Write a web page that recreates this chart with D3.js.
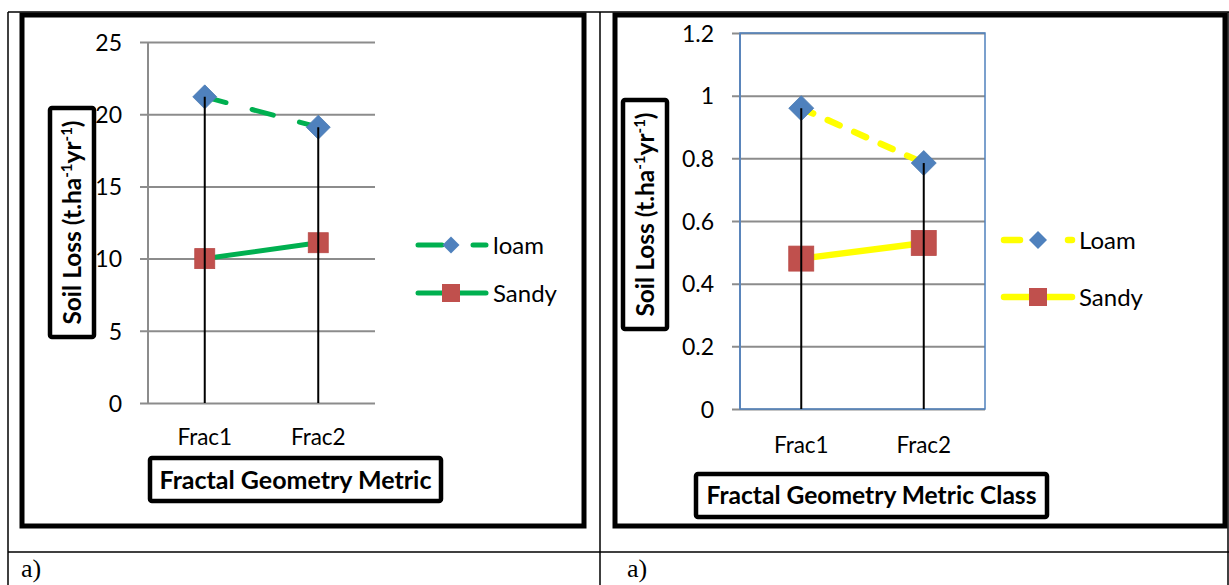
<!DOCTYPE html>
<html>
<head>
<meta charset="utf-8">
<script src="https://cdn.jsdelivr.net/npm/d3@7"></script>
<style>
  html, body { margin: 0; padding: 0; background: #fff; }
  svg { display: block; }
  text { font-family: Lato, "Open Sans", sans-serif; }
</style>
</head>
<body>
<svg id="fig" width="1229" height="585"></svg>
<script>
// Soil loss by fractal geometry metric, two soil types
const categories = ["Frac1", "Frac2"];

const loamA  = [21.2, 19.1];
const sandyA = [10.0, 11.1];
const ticksA = [0, 5, 10, 15, 20, 25];

const loamB  = [0.96, 0.785];
const sandyB = [0.48, 0.53];
const ticksB = [0, 0.2, 0.4, 0.6, 0.8, 1, 1.2];

const seriesNamesA = ["loam", "Sandy"];
const seriesNamesB = ["Loam", "Sandy"];

const svg = d3.select("#fig");

// table grid that holds the two panels
const tbl = svg.append("g").attr("stroke", "#000").attr("stroke-width", 1.5).attr("fill", "none");
tbl.append("line").attr("x1", 8).attr("x2", 1229).attr("y1", 12).attr("y2", 12);
tbl.append("line").attr("x1", 8).attr("x2", 8).attr("y1", 12).attr("y2", 585);
tbl.append("line").attr("x1", 600).attr("x2", 600).attr("y1", 12).attr("y2", 585);
tbl.append("line").attr("x1", 1228).attr("x2", 1228).attr("y1", 12).attr("y2", 585);
tbl.append("line").attr("x1", 8).attr("x2", 1229).attr("y1", 552).attr("y2", 552);

const serif = "'Liberation Serif', 'Times New Roman', serif";
svg.append("text").attr("x", 21).attr("y", 577).style("font-family", serif).style("font-size", "26px").text("a)");
svg.append("text").attr("x", 627).attr("y", 577).style("font-family", serif).style("font-size", "26px").text("a)");

function diamondPath(s) {
  const h = s / 2;
  return `M0,${-h}L${h},0L0,${h}L${-h},0Z`;
}

function drawPanel(cfg) {
  const g = svg.append("g");

  // outer heavy frame
  g.append("rect").attr("x", cfg.frame[0]).attr("y", cfg.frame[1])
    .attr("width", cfg.frame[2] - cfg.frame[0]).attr("height", cfg.frame[3] - cfg.frame[1])
    .attr("fill", "none").attr("stroke", "#000").attr("stroke-width", 5);

  const x = d3.scaleBand().domain(categories).range([cfg.plot.left, cfg.plot.right]);
  const y = d3.scaleLinear().domain(cfg.yDomain).range([cfg.plot.bottom, cfg.plot.top]);

  // gridlines with tick stubs to the left of the axis
  const yAxis = d3.axisLeft(y).tickValues(cfg.ticks)
    .tickSize(-(cfg.plot.right - cfg.plot.left) - cfg.tickOut)
    .tickFormat(d => String(d)).tickPadding(0);
  const ya = g.append("g").attr("transform", `translate(${cfg.plot.left - cfg.tickOut},0)`).call(yAxis);
  ya.select(".domain").remove();
  ya.selectAll(".tick line").attr("stroke", "#8c8c8c").attr("stroke-width", 2);
  ya.selectAll(".tick text").attr("x", cfg.labelRight - (cfg.plot.left - cfg.tickOut))
    .attr("dy", "0.36em").attr("fill", "#000").style("font-size", "23px");

  // vertical value axis line
  g.append("line").attr("x1", cfg.plot.left).attr("x2", cfg.plot.left)
    .attr("y1", cfg.plot.top).attr("y2", cfg.plot.bottom)
    .attr("stroke", cfg.axisColor).attr("stroke-width", 2);

  if (cfg.border) {
    g.append("rect").attr("x", cfg.plot.left).attr("y", cfg.plot.top)
      .attr("width", cfg.plot.right - cfg.plot.left).attr("height", cfg.plot.bottom - cfg.plot.top)
      .attr("fill", "none").attr("stroke", cfg.border).attr("stroke-width", 1.5);
  }

  // category labels
  const xAxis = d3.axisBottom(x).tickSize(0).tickPadding(0);
  const xa = g.append("g").attr("transform", `translate(0,${cfg.catY})`).call(xAxis);
  xa.select(".domain").remove();
  xa.selectAll(".tick text").attr("dy", "0.36em").attr("y", 0).attr("fill", "#000").style("font-size", "22.5px");

  const cx = d => x(d) + x.bandwidth() / 2;
  const line = d3.line().x((d, i) => cx(categories[i])).y(d => y(d));

  // series lines
  g.append("path").datum(cfg.sandy).attr("d", line).attr("fill", "none")
    .attr("stroke", cfg.color).attr("stroke-width", cfg.lineW).attr("stroke-linecap", "round");
  g.append("path").datum(cfg.loam).attr("d", line).attr("fill", "none")
    .attr("stroke", cfg.color).attr("stroke-width", cfg.lineW)
    .attr("stroke-linecap", "round").attr("stroke-dasharray", cfg.dash);

  // markers
  g.selectAll(".dia").data(cfg.loam).join("path").attr("class", "dia")
    .attr("transform", (d, i) => `translate(${cx(categories[i])},${y(d)})`)
    .attr("d", diamondPath(cfg.diaSize)).attr("fill", "#4F81BD")
    .attr("stroke", "#4a7ab3").attr("stroke-width", 0.8);
  g.selectAll(".sq").data(cfg.sandy).join("rect").attr("class", "sq")
    .attr("x", (d, i) => cx(categories[i]) - cfg.sqSize / 2)
    .attr("y", d => y(d) - cfg.sqSize / 2)
    .attr("width", cfg.sqSize).attr("height", cfg.sqSize)
    .attr("fill", "#C0504D").attr("stroke", "#b84a47").attr("stroke-width", 0.8);

  // drop lines from the highest point of each category to the baseline
  g.selectAll(".drop").data(categories).join("line").attr("class", "drop")
    .attr("x1", d => cx(d)).attr("x2", d => cx(d))
    .attr("y1", (d, i) => y(Math.max(cfg.loam[i], cfg.sandy[i])))
    .attr("y2", y(0)).attr("stroke", "#000").attr("stroke-width", 2);

  // legend
  const lg = g.append("g");
  const L = cfg.legend;
  // loam entry: dashed line with diamond
  lg.append("line").attr("x1", L.x0).attr("x2", L.x1).attr("y1", L.y0).attr("y2", L.y0)
    .attr("stroke", cfg.color).attr("stroke-width", cfg.lineW)
    .attr("stroke-linecap", "round").attr("stroke-dasharray", L.dash);
  lg.append("path").attr("transform", `translate(${L.mx},${L.y0})`)
    .attr("d", diamondPath(L.dia)).attr("fill", "#4F81BD");
  lg.append("text").attr("x", L.tx).attr("y", L.y0).attr("dy", "0.36em")
    .style("font-size", "24px").text(cfg.names[0]);
  // sandy entry: solid line with square
  lg.append("line").attr("x1", L.x0).attr("x2", L.x1).attr("y1", L.y1).attr("y2", L.y1)
    .attr("stroke", cfg.color).attr("stroke-width", cfg.lineW).attr("stroke-linecap", "round");
  lg.append("rect").attr("x", L.mx - L.sq / 2).attr("y", L.y1 - L.sq / 2)
    .attr("width", L.sq).attr("height", L.sq).attr("fill", "#C0504D");
  lg.append("text").attr("x", L.tx).attr("y", L.y1).attr("dy", "0.36em")
    .style("font-size", "24px").text(cfg.names[1]);

  // value axis title in a boxed frame
  const yb = cfg.yBox;
  g.append("rect").attr("x", yb[0]).attr("y", yb[1]).attr("width", yb[2] - yb[0]).attr("height", yb[3] - yb[1])
    .attr("rx", 2).attr("fill", "#fff").attr("stroke", "#000").attr("stroke-width", 4.5);
  const yt = g.append("text")
    .attr("transform", `translate(${(yb[0] + yb[2]) / 2 + 9},${(yb[1] + yb[3]) / 2}) rotate(-90)`)
    .attr("text-anchor", "middle").style("font-size", "24.5px").style("font-weight", "bold");
  yt.append("tspan").text("Soil Loss (t.ha");
  yt.append("tspan").attr("dy", -9).style("font-size", "15px").text("-1");
  yt.append("tspan").attr("dy", 9).text("yr");
  yt.append("tspan").attr("dy", -9).style("font-size", "15px").text("-1");
  yt.append("tspan").attr("dy", 9).text(")");

  // category axis title in a boxed frame
  const xb = cfg.xBox;
  g.append("rect").attr("x", xb[0]).attr("y", xb[1]).attr("width", xb[2] - xb[0]).attr("height", xb[3] - xb[1])
    .attr("rx", 2).attr("fill", "#fff").attr("stroke", "#000").attr("stroke-width", 4.5);
  g.append("text").attr("x", (xb[0] + xb[2]) / 2).attr("y", (xb[1] + xb[3]) / 2).attr("dy", "0.36em")
    .attr("text-anchor", "middle").style("font-size", cfg.xTitleSize).style("font-weight", "bold").text(cfg.xTitle);
}

drawPanel({
  frame: [22, 15, 584, 526],
  plot: { left: 148, right: 375, top: 42, bottom: 403 },
  tickOut: 8, labelRight: 122,
  yDomain: [0, 25], ticks: ticksA,
  axisColor: "#8c8c8c", border: null,
  catY: 437,
  loam: loamA, sandy: sandyA, names: seriesNamesA,
  color: "#00B050", lineW: 5, dash: "22,27",
  diaSize: 24, sqSize: 20,
  legend: { x0: 418, x1: 486, mx: 451, y0: 245, y1: 293, tx: 493, dia: 17, sq: 18, dash: "24,31" },
  yBox: [50, 108, 94, 337],
  xBox: [150, 458, 441, 501],
  xTitle: "Fractal Geometry Metric", xTitleSize: "25px"
});

drawPanel({
  frame: [615, 15, 1225, 526],
  plot: { left: 740, right: 985, top: 33, bottom: 409 },
  tickOut: 8, labelRight: 714,
  yDomain: [0, 1.2], ticks: ticksB,
  axisColor: "#7f93b5", border: "#4F81BD",
  catY: 445,
  loam: loamB, sandy: sandyB, names: seriesNamesB,
  color: "#FFFF00", lineW: 6.5, dash: "13,16",
  diaSize: 25, sqSize: 25,
  legend: { x0: 1004, x1: 1072, mx: 1038, y0: 240, y1: 297, tx: 1079, dia: 18, sq: 18, dash: "16,48" },
  yBox: [623, 100, 667, 329],
  xBox: [696, 474, 1047, 517],
  xTitle: "Fractal Geometry Metric Class", xTitleSize: "24.6px"
});
</script>
</body>
</html>
